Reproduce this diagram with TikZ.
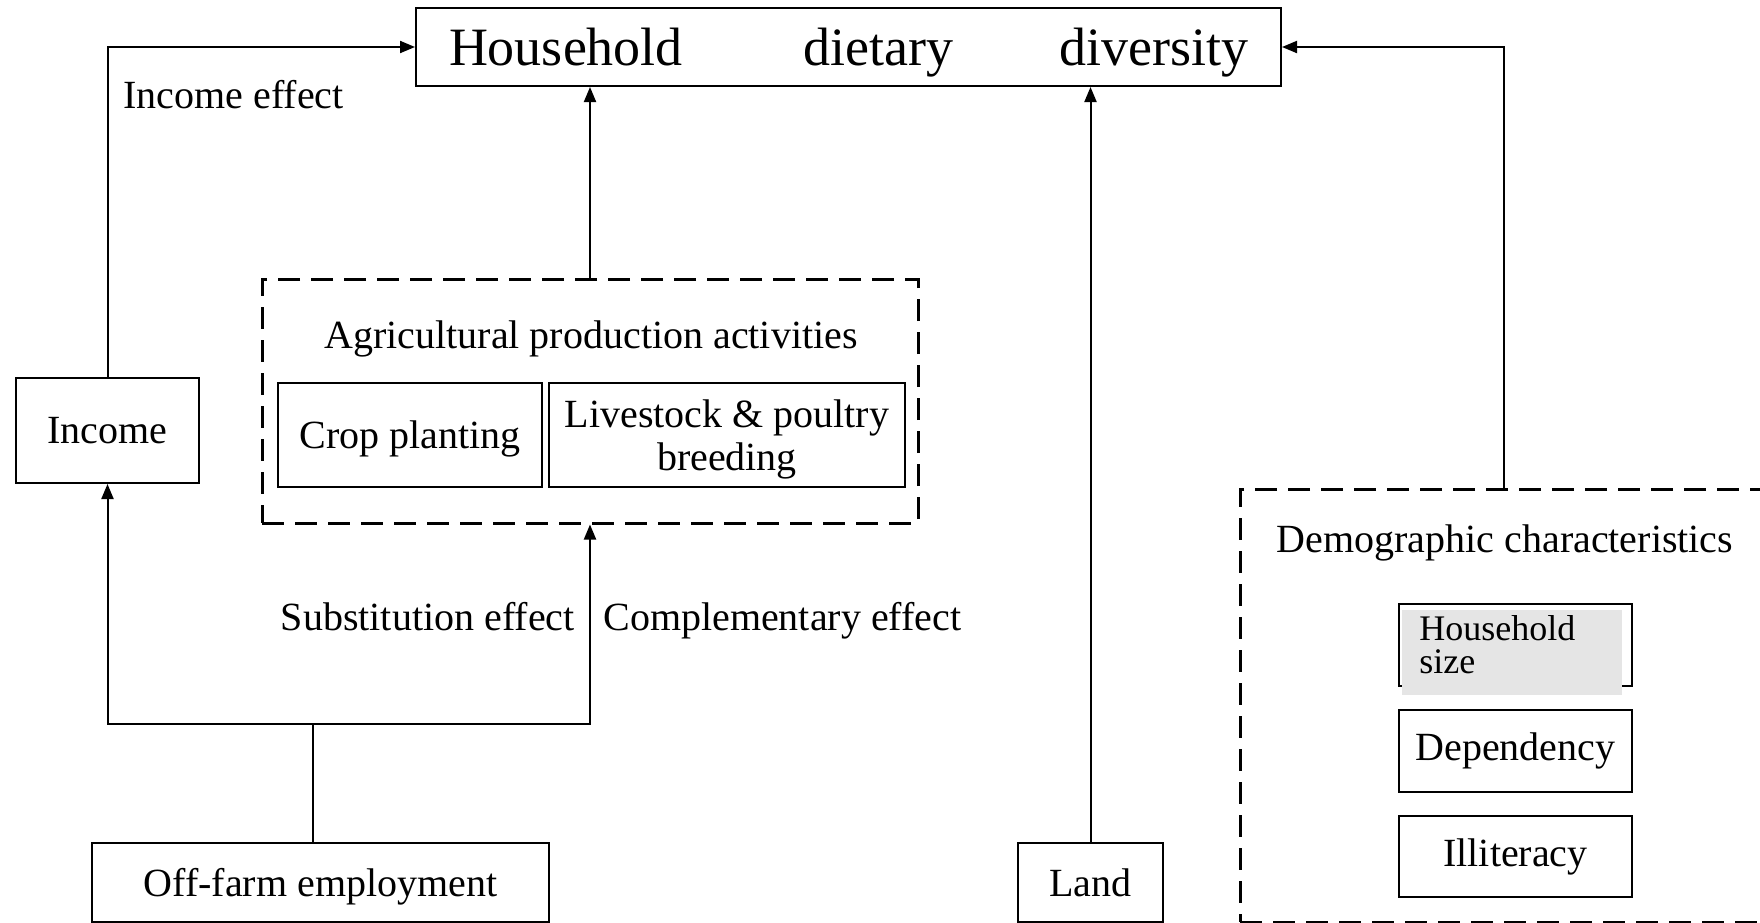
\documentclass[tikz,border=0pt]{standalone}
\usepackage{fontspec}
\setmainfont{Liberation Serif}
\usetikzlibrary{arrows.meta, positioning}

\begin{document}
\begin{tikzpicture}[x=0.5pt, y=-0.5pt,
  box/.style={draw, line width=1pt, inner sep=2pt, align=center, font=\fontsize{20}{21.5}\selectfont},
  groupbox/.style={draw, line width=1.5pt, dash pattern=on 11pt off 5.5pt, inner sep=0pt},
  lbl/.style={font=\fontsize{20}{24}\selectfont, inner sep=0pt},
  arr/.style={-{Triangle[length=7.5pt, width=6pt]}, line width=1pt},
  link/.style={line width=1pt}]
  \useasboundingbox (0,0) rectangle (1760,922);

  % Outcome
  \node[box, minimum width=432.5pt, minimum height=39pt, text width=399.5pt, text depth=0pt,
        font=\fontsize{27}{32}\selectfont] (hdd) at (848.5,47)
        {Household\hspace{\stretch{1.15}}dietary\hspace{\stretch{1}}diversity};

  % Income channel
  \node[box, minimum width=91.5pt, minimum height=52.5pt] (inc) at (107.5,430.5) {Income};
  \node[lbl, anchor=west] (inceff) at (123,95) {Income effect};

  % Agricultural production activities
  \node[groupbox, minimum width=328pt, minimum height=122pt] (agri) at (590,401) {};
  \node[lbl] (agrititle) at (591,338.5) {Agricultural production activities};
  \node[box, minimum width=132pt, minimum height=52pt, text depth=0pt] (crop) at (410,435) {Crop planting};
  \node[box, minimum width=178pt, minimum height=52pt, text depth=0pt] (live) at (727,435) {Livestock \& poultry\\breeding};

  % Off-farm employment
  \node[box, minimum width=228.5pt, minimum height=39.5pt, text depth=0pt] (off) at (320.5,882.5) {Off-farm employment};
  \coordinate (split) at (313,724);
  \node[lbl, anchor=east] (subeff) at (575,617) {Substitution effect};
  \node[lbl, anchor=west] (compeff) at (603,620.5) {Complementary effect};

  % Land
  \node[box, minimum width=72.5pt, minimum height=39.5pt] (land) at (1090.5,882.5) {Land};

  % Demographic characteristics
  \node[groupbox, minimum width=264pt, minimum height=216.5pt] (demo) at (1504,705.5) {};
  \node[lbl] (demotitle) at (1505,542.5) {Demographic characteristics};
  \node[box, minimum width=116.5pt, minimum height=41pt] (hsize) at (1515.5,645) {};
  \fill[gray!20] (1402,610) rectangle (1622,695);
  \node[anchor=north west, align=left, inner sep=0pt,
        font=\fontsize{18}{16.5}\selectfont] (hsizetxt) at (1419,615.5) {Household\\size};
  \node[box, minimum width=116.5pt, minimum height=41pt] (dep) at (1515.5,751) {Dependency};
  \node[box, minimum width=116.5pt, minimum height=40.5pt] (ill) at (1515.5,856.5) {Illiteracy};

  % Connectors
  \draw[link] (off.north -| split) -- (split);
  \draw[arr] (split) -| (inc.south);
  \draw[arr] (split) -| (agri.south);
  \draw[arr] (inc.north) |- (hdd.west);
  \draw[arr] (agri.north) -- (agri.north |- hdd.south);
  \draw[arr] (land.north) -- (land.north |- hdd.south);
  \draw[arr] (demo.north) |- (hdd.east);
\end{tikzpicture}
\end{document}
